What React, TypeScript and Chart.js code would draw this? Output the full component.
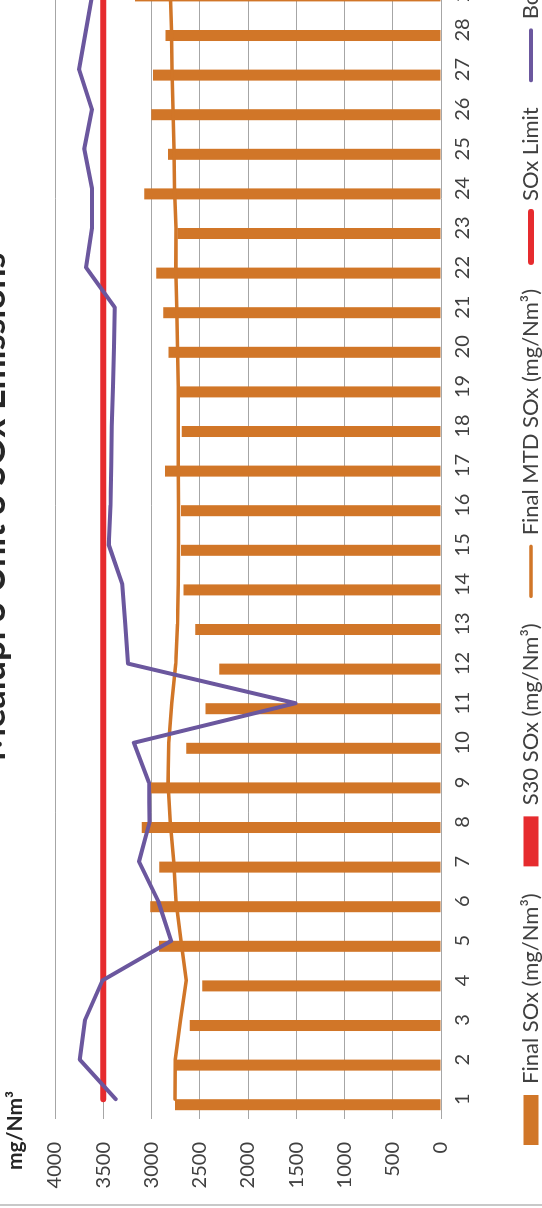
import React, { useEffect, useRef } from 'react';
import { Chart, registerables } from 'chart.js';

Chart.register(...registerables);

// ---------- data ----------
const days = ['1','2','3','4','5','6','7','8','9','10','11','12','13','14','15','16','17','18','19','20','21','22','23','24','25','26','27','28','29','30','31'];

const finalSox = [2756, 2749, 2604, 2474, 2922, 3013, 2919, 3100, 3013, 2640, 2441, 2297, 2546, 2669, 2695, 2695, 2861, 2687, 2709, 2825, 2879, 2951, 2731, 3074, 2829, 3002, 2984, 2854, 3172, null, null];

const s30Sox: (number | null)[] = [];

const finalMtdSox = [2756, 2755, 2700, 2640, 2695, 2745, 2770, 2805, 2830, 2822, 2790, 2748, 2730, 2724, 2721, 2720, 2724, 2722, 2722, 2731, 2738, 2749, 2745, 2762, 2768, 2778, 2788, 2793, 2805, null, null];

const soxLimit = [3500, 3500, 3500, 3500, 3500, 3500, 3500, 3500, 3500, 3500, 3500, 3500, 3500, 3500, 3500, 3500, 3500, 3500, 3500, 3500, 3500, 3500, 3500, 3500, 3500, 3500, 3500, 3500, 3500, 3500, 3500];

const boilerSox = [3371, 3744, 3689, 3508, 2796, 2930, 3129, 3020, 3027, 3183, 1508, 3244, 3273, 3302, 3443, 3425, 3418, 3411, 3400, 3389, 3382, 3678, 3617, 3617, 3697, 3617, 3751, 3678, 3606, null, null];

const yTicks = [0, 500, 1000, 1500, 2000, 2500, 3000, 3500, 4000];

const chartTitle = 'Mealupi 3 Unit 3 SOx Emissions';
const yUnit = 'mg/Nm³';
const seriesNames = ['Final SOx (mg/Nm³)', 'S30 SOx (mg/Nm³)', 'Final MTD SOx (mg/Nm³)', 'SOx Limit', 'Boiler SOx'];

// ---------- layout (original, unrotated chart) ----------
const CW = 1366;
const CH = 592;
const TOP_CROP = 40;
const FONT = 'Lato';

const ORANGE = '#D17628';
const RED = '#E62B2E';
const PURPLE = '#6B579E';
const GRID = '#A6A6A6';
const TEXT = '#404040';

const axisTitlePlugin = {
  id: 'axisTitle',
  afterLayout(chart: any) {
    if (chart.legend) chart.legend.left = 36;
    if (chart.titleBlock) chart.titleBlock.left = 36;
  },
  afterDraw(chart: any) {
    const ctx = chart.ctx;
    ctx.save();
    ctx.font = `bold 21px ${FONT}`;
    ctx.fillStyle = '#262626';
    ctx.textBaseline = 'alphabetic';
    ctx.textAlign = 'left';
    ctx.fillText(yUnit, 38, 62);
    ctx.restore();
  },
};

export default function App() {
  const ref = useRef<HTMLCanvasElement>(null);

  useEffect(() => {
    const canvas = ref.current;
    if (!canvas) return;
    Chart.defaults.font.family = FONT;
    const chart = new Chart(canvas, {
      type: 'bar',
      data: {
        labels: days,
        datasets: [
          {
            type: 'bar',
            label: seriesNames[0],
            data: finalSox,
            backgroundColor: ORANGE,
            borderWidth: 0,
            categoryPercentage: 0.556,
            barPercentage: 1.0,
            order: 3,
          },
          {
            type: 'bar',
            label: seriesNames[1],
            data: s30Sox,
            backgroundColor: RED,
            borderWidth: 0,
            categoryPercentage: 0.556,
            barPercentage: 1.0,
            order: 3,
          },
          {
            type: 'line',
            label: seriesNames[2],
            data: finalMtdSox,
            borderColor: ORANGE,
            backgroundColor: ORANGE,
            borderWidth: 3.5,
            pointRadius: 0,
            tension: 0,
            borderCapStyle: 'round',
            borderJoinStyle: 'round',
            order: 1,
          },
          {
            type: 'line',
            label: seriesNames[3],
            data: soxLimit,
            borderColor: RED,
            backgroundColor: RED,
            borderWidth: 6,
            pointRadius: 0,
            tension: 0,
            borderCapStyle: 'round',
            order: 2,
          },
          {
            type: 'line',
            label: seriesNames[4],
            data: boilerSox,
            borderColor: PURPLE,
            backgroundColor: PURPLE,
            borderWidth: 4,
            pointRadius: 0,
            tension: 0,
            borderCapStyle: 'round',
            borderJoinStyle: 'round',
            order: 0,
          },
        ] as any,
      },
      options: {
        animation: false,
        responsive: false,
        devicePixelRatio: 1,
        layout: { padding: { left: 0, right: 0, top: 0, bottom: 0 } },
        plugins: {
          title: {
            display: true,
            text: chartTitle,
            color: '#262626',
            font: { family: FONT, size: 36, weight: 'bold' },
            padding: { top: 11.6, bottom: 40.2 },
          },
          legend: {
            position: 'bottom',
            align: 'start',
            labels: {
              color: TEXT,
              font: { family: FONT, size: 22 },
              usePointStyle: true,
              pointStyleWidth: 50,
              boxHeight: 15,
              padding: 27,
              sort: (a: any, b: any) => a.datasetIndex - b.datasetIndex,
              generateLabels: (ch: any) => {
                const items = (Chart.defaults.plugins.legend.labels as any).generateLabels(ch);
                items.forEach((it: any) => {
                  const ds = ch.data.datasets[it.datasetIndex];
                  if (ds.type === 'bar') {
                    it.pointStyle = 'rect';
                    it.lineWidth = 0;
                    it.fillStyle = ds.backgroundColor;
                  } else {
                    it.pointStyle = 'line';
                    it.lineWidth = ds.borderWidth;
                    it.strokeStyle = ds.borderColor;
                    it.lineCap = 'round';
                  }
                });
                return items;
              },
            },
          },
          tooltip: { enabled: false },
        },
        scales: {
          x: {
            type: 'category',
            offset: true,
            grid: { display: false, drawTicks: false },
            border: { display: false },
            ticks: {
              color: TEXT,
              font: { family: FONT, size: 20 },
              padding: 10,
              autoSkip: false,
              maxRotation: 0,
            },
            afterFit: (s: any) => { s.height = 52; },
          },
          y: {
            min: 0,
            max: 4000,
            grid: { color: GRID, lineWidth: 1, drawTicks: false },
            border: { display: false },
            ticks: {
              color: TEXT,
              font: { family: FONT, size: 20 },
              padding: 23,
              stepSize: 500,
              callback: (v: any) => (yTicks.includes(Number(v)) ? String(v) : ''),
            },
            afterFit: (s: any) => { s.width = 89; },
          },
          y2: {
            position: 'right',
            min: 0,
            max: 1,
            grid: { display: false },
            border: { display: false },
            ticks: { display: false },
            afterFit: (s: any) => { s.width = 49.4; },
          },
        },
      } as any,
      plugins: [axisTitlePlugin],
    });
    return () => chart.destroy();
  }, []);

  return (
    <div style={{ position: 'fixed', left: 0, top: 0, width: 542, height: 1208, overflow: 'hidden', background: '#ffffff' }}>
      <div
        style={{
          position: 'absolute',
          left: 0,
          top: 0,
          width: CW,
          height: CH,
          transformOrigin: '0 0',
          transform: `translate(${-TOP_CROP}px, 1208px) rotate(-90deg)`,
        }}
      >
        <canvas ref={ref} width={CW} height={CH} style={{ display: 'block', width: CW, height: CH }} />
      </div>
      <div style={{ position: 'absolute', left: 0, top: 1204, width: 542, height: 2, background: '#C8C8C8' }} />
    </div>
  );
}
